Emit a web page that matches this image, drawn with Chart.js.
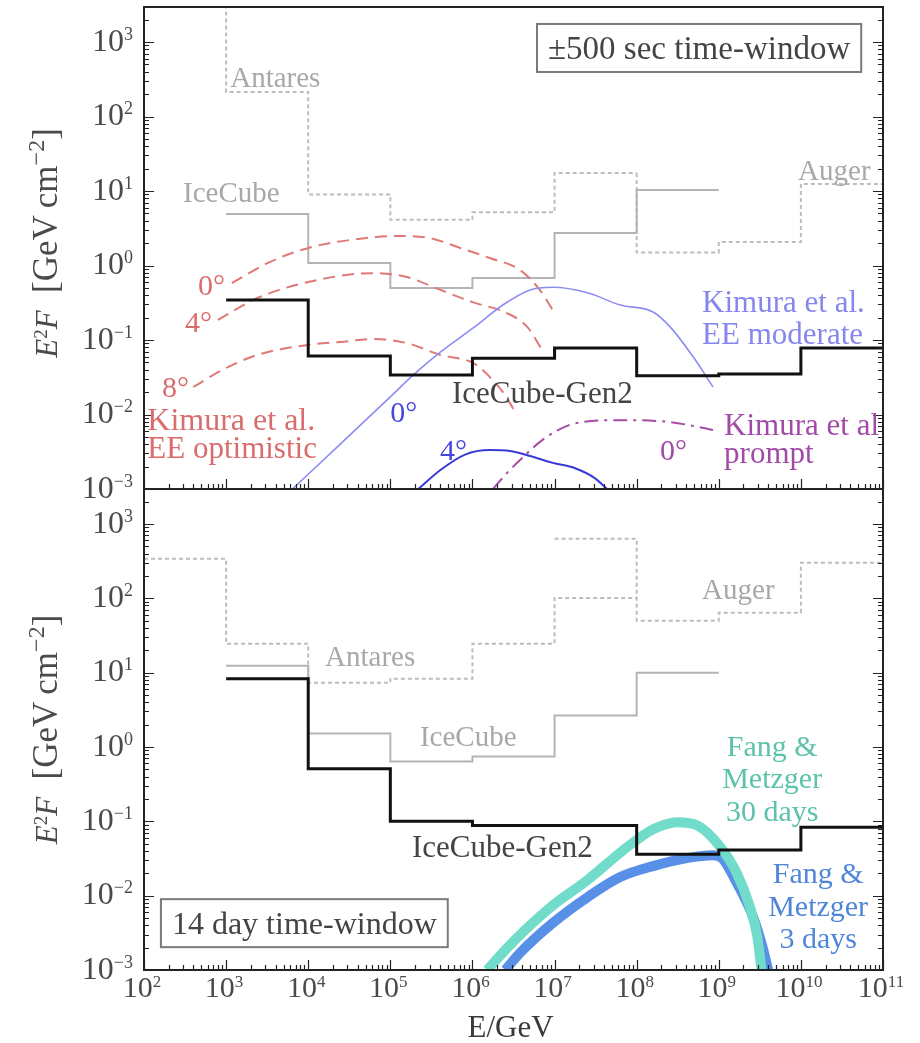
<!DOCTYPE html>
<html>
<head>
<meta charset="utf-8">
<script src="https://cdn.jsdelivr.net/npm/chart.js@4.4.0/dist/chart.umd.min.js"></script>
<style>
  body { margin: 0; background: #fff; }
  #wrap { position: relative; width: 920px; height: 1043px; background: #fff; }
  canvas { position: absolute; left: 0; }
</style>
</head>
<body>
<div id="wrap">
  <canvas id="topPanel" width="920" height="530" style="top:0"></canvas>
  <canvas id="botPanel" width="920" height="573" style="top:470px"></canvas>
</div>
<script>
const FONT = '"Liberation Serif", "DejaVu Serif", serif';

// axes (E in GeV, E^2 F in GeV cm^-2)
const xMin = 1e2, xMax = 1e11;
const yMin = 1e-3, yMax = Math.pow(10, 3.47);
const xTickExps = [2, 3, 4, 5, 6, 7, 8, 9, 10, 11];
const yTickExps = [-3, -2, -1, 0, 1, 2, 3];

// ---- upper panel: ±500 s ----
const antaresTopEdges = [1e2, 1e3, 1e4, 1e5, 1e6, 1e7, 1e8];
const antaresTopVals  = [1e4, 214, 9.0, 4.1, 5.2, 17.5];
const augerTopEdges   = [1e8, 1e9, 1e10, 1e11];
const augerTopVals    = [1.5, 2.07, 12.4];
const icecubeTopEdges = [1e3, 1e4, 1e5, 1e6, 1e7, 1e8, 1e9];
const icecubeTopVals  = [4.9, 1.08, 0.5, 0.68, 2.73, 10.3];
const gen2Edges       = [1e3, 1e4, 1e5, 1e6, 1e7, 1e8, 1e9, 1e10, 1e11];
const gen2TopVals     = [0.344, 0.061, 0.034, 0.057, 0.078, 0.033, 0.035, 0.078];

// Kimura et al. EE optimistic (log10 E, flux)
const eeOpt0LogE = [3.07, 3.53, 4.0, 4.51, 5.12, 5.48, 5.85, 6.21, 6.58, 6.82, 7.0];
const eeOpt0Vals = [0.58, 1.11, 1.72, 2.2, 2.49, 2.34, 1.72, 1.26, 0.87, 0.47, 0.23];
const eeOpt4LogE = [2.90, 3.38, 4.0, 4.79, 5.20, 5.61, 6.01, 6.42, 6.67, 6.85];
const eeOpt4Vals = [0.186, 0.366, 0.60, 0.79, 0.70, 0.47, 0.32, 0.23, 0.149, 0.073];
const eeOpt8LogE = [2.60, 2.96, 3.38, 4.0, 4.39, 4.79, 5.20, 5.61, 6.01, 6.21, 6.40, 6.54];
const eeOpt8Vals = [0.0234, 0.040, 0.063, 0.086, 0.094, 0.103, 0.091, 0.063, 0.049, 0.032, 0.018, 0.0098];
// Kimura et al. EE moderate
const eeMod0LogE = [3.80, 4.39, 5.0, 5.28, 5.64, 6.01, 6.37, 6.70, 6.98, 7.40, 7.80, 8.20, 8.41, 8.69, 8.93];
const eeMod0Vals = [0.00098, 0.0040, 0.0172, 0.034, 0.073, 0.145, 0.295, 0.47, 0.51, 0.43, 0.295, 0.238, 0.149, 0.059, 0.0234];
const eeMod4LogE = [5.34, 5.61, 5.91, 6.21, 6.46, 6.70, 6.98, 7.25, 7.49, 7.64];
const eeMod4Vals = [0.001, 0.0018, 0.0029, 0.00334, 0.00324, 0.00277, 0.00224, 0.0019, 0.0014, 0.001];
// Kimura et al. prompt
const prompt0LogE = [6.25, 6.40, 6.58, 6.88, 7.27, 7.80, 8.41, 8.93];
const prompt0Vals = [0.001, 0.00155, 0.00245, 0.0048, 0.0077, 0.0084, 0.0079, 0.0062];

// ---- lower panel: 14 day ----
const antaresBotEdges = [1e2, 1e3, 1e4, 1e5, 1e6, 1e7, 1e8];
const antaresBotVals  = [340, 24.5, 7.3, 8.3, 24.5, 101];
const augerBotEdges   = [1e7, 1e8, 1e9, 1e10, 1e11];
const augerBotVals    = [630, 50, 64, 300];
const icecubeBotEdges = [1e3, 1e4, 1e5, 1e6, 1e7, 1e8, 1e9];
const icecubeBotVals  = [12.4, 1.52, 0.64, 0.745, 2.65, 10];
const gen2BotVals     = [8.3, 0.51, 0.1, 0.088, 0.088, 0.036, 0.041, 0.083];

// Fang & Metzger
const fang30LogE = [6.18, 6.40, 6.64, 6.98, 7.40, 7.80, 8.0, 8.20, 8.49, 8.74, 9.02, 9.22, 9.38, 9.47, 9.52];
const fang30Vals = [0.001, 0.00186, 0.00344, 0.0074, 0.0162, 0.038, 0.056, 0.078, 0.097, 0.088, 0.045, 0.020, 0.0070, 0.0028, 0.001];
const fang3LogE  = [6.40, 6.58, 6.98, 7.40, 7.80, 8.20, 8.61, 8.93, 9.04, 9.22, 9.42, 9.54, 9.60];
const fang3Vals  = [0.001, 0.0017, 0.0043, 0.0095, 0.0178, 0.025, 0.032, 0.035, 0.032, 0.0148, 0.0051, 0.0019, 0.001];

// colours
const cGrayLine = '#b4b4b4', cGrayDot = '#bdbdbd', cGrayText = '#a8a8a8';
const cRed = '#e07878', cRedText = '#d96c6c';
const cMod = '#8c8cf2', cModText = '#8686ec', cBlue = '#3a3ad6', cBlueText = '#4646e0';
const cPurple = '#a64ca6', cPurpleText = '#a24aa8';
const cTeal = '#72dccb', cTealText = '#5cc2aa', cFang3 = '#5890e8', cFang3Text = '#4f86d8';

function steps(edges, vals, lead) {
  const pts = [];
  if (lead !== undefined) pts.push({ x: edges[0], y: lead });
  vals.forEach((v, i) => { pts.push({ x: edges[i], y: v }, { x: edges[i + 1], y: v }); });
  return pts;
}
function curve(logE, vals) {
  return logE.map((e, i) => ({ x: Math.pow(10, e), y: vals[i] }));
}
function stepDs(data, color, width, dash) {
  return { data, borderColor: color, borderWidth: width, borderDash: dash || [], tension: 0, pointRadius: 0, clip: 0, fill: false };
}
function curveDs(data, color, width, dash) {
  return { data, borderColor: color, borderWidth: width, borderDash: dash || [], cubicInterpolationMode: 'monotone', pointRadius: 0, clip: 0, fill: false };
}

// text drawing with italic / superscript parts; p = [text, flags, size]
function rich(ctx, parts, x, mid, size, color, align, supScale) {
  const sc = supScale || 0.62;
  const fontFor = p => {
    const f = p[1] || '';
    const base = p[2] || size;
    const s = f.includes('s') ? Math.round(base * sc) : base;
    return (f.includes('i') ? 'italic ' : '') + s + 'px ' + FONT;
  };
  let total = 0;
  parts.forEach(p => { ctx.font = fontFor(p); total += ctx.measureText(p[0]).width; });
  let cx = align === 'right' ? x - total : align === 'center' ? x - total / 2 : x;
  const baseY = mid + size * 0.33;
  ctx.fillStyle = color;
  ctx.textAlign = 'left';
  ctx.textBaseline = 'alphabetic';
  parts.forEach(p => {
    ctx.font = fontFor(p);
    const dy = (p[1] || '').includes('s') ? -(p[2] || size) * 0.34 : 0;
    ctx.fillText(p[0], cx, baseY + dy);
    cx += ctx.measureText(p[0]).width;
  });
  return total;
}
const expLabel = e => [['10'], [String(e).replace('-', '\u2212'), 's']];

function panelPlugin(cfg) {
  return {
    id: 'panel',
    afterDatasetsDraw(chart) {
      const { ctx, chartArea: a, scales: { x, y } } = chart;
      ctx.save();
      ctx.strokeStyle = '#222';
      ctx.lineWidth = 1.2;
      ctx.beginPath();
      for (let e = 2; e <= 11; e++) {
        for (let m = 1; m <= 9; m++) {
          const v = m * Math.pow(10, e);
          if (v > xMax) break;
          const px = Math.round(x.getPixelForValue(v)) + 0.5;
          const len = m === 1 ? 10 : 5;
          ctx.moveTo(px, a.bottom); ctx.lineTo(px, a.bottom - len);
        }
      }
      for (let e = -3; e <= 3; e++) {
        for (let m = 1; m <= 9; m++) {
          const v = m * Math.pow(10, e);
          if (v > yMax) break;
          const py = Math.round(y.getPixelForValue(v)) + 0.5;
          const len = m === 1 ? 10 : 5;
          ctx.moveTo(a.left, py); ctx.lineTo(a.left + len, py);
          ctx.moveTo(a.right, py); ctx.lineTo(a.right - len, py);
        }
      }
      ctx.stroke();
      ctx.lineWidth = 2;
      ctx.strokeRect(a.left, a.top, a.right - a.left, a.bottom - a.top);

      // y tick labels
      yTickExps.forEach(e => {
        rich(ctx, expLabel(e), a.left - 11, y.getPixelForValue(Math.pow(10, e)) - 2, 32, '#4a4a4a', 'right', 0.56);
      });
      if (cfg.xLabels) {
        xTickExps.forEach(e => {
          rich(ctx, expLabel(e), x.getPixelForValue(Math.pow(10, e)) - 2, a.bottom + 17, 30, '#4a4a4a', 'center', 0.58);
        });
        rich(ctx, [['E/GeV']], (a.left + a.right) / 2 - 3, a.bottom + 57, 31, '#3a3a3a', 'center');
      }
      // y axis title
      ctx.save();
      ctx.translate(46, (a.top + a.bottom) / 2 + cfg.titleShift);
      ctx.rotate(-Math.PI / 2);
      rich(ctx, [['E', 'i', 31], ['2', 's', 31], ['F', 'i', 31], ['\u2002[GeV\u2009cm', '', 35], ['\u22122', 's', 38], [']', '', 35]],
           0, 0, 34, '#4a4a4a', 'center');
      ctx.restore();

      // box
      if (cfg.box) {
        const b = cfg.box;
        const bx = x.getPixelForValue(Math.pow(10, b.logE));
        const by = y.getPixelForValue(Math.pow(10, b.logF));
        ctx.font = b.size + 'px ' + FONT;
        const w = ctx.measureText(b.text).width;
        ctx.fillStyle = '#fff';
        ctx.fillRect(bx - 11, by - 24, w + 22, 48);
        ctx.strokeStyle = '#7a7a7a';
        ctx.lineWidth = 2;
        ctx.strokeRect(bx - 11, by - 24, w + 22, 48);
        rich(ctx, [[b.text]], bx, by, b.size, '#444', 'left');
      }
      cfg.labels.forEach(l => {
        rich(ctx, [[l.text]], x.getPixelForValue(Math.pow(10, l.logE)), y.getPixelForValue(Math.pow(10, l.logF)),
             l.size, l.color, l.align || 'left');
      });
      ctx.restore();
    }
  };
}

function makeChart(id, datasets, padding, cfg) {
  return new Chart(document.getElementById(id), {
    type: 'line',
    data: { datasets },
    options: {
      responsive: false,
      animation: false,
      layout: { padding },
      plugins: { legend: { display: false }, tooltip: { enabled: false } },
      scales: {
        x: { type: 'logarithmic', min: xMin, max: xMax, display: false },
        y: { type: 'logarithmic', min: yMin, max: yMax, display: false }
      }
    },
    plugins: [panelPlugin(cfg)]
  });
}

// upper panel (lower index is drawn on top)
makeChart('topPanel', [
  stepDs(steps(gen2Edges, gen2TopVals), '#111', 3),
  curveDs(curve(eeMod4LogE, eeMod4Vals), cBlue, 2),
  curveDs(curve(prompt0LogE, prompt0Vals), cPurple, 2, [14, 6, 3, 6]),
  curveDs(curve(eeMod0LogE, eeMod0Vals), cMod, 1.6),
  curveDs(curve(eeOpt0LogE, eeOpt0Vals), cRed, 2, [12, 7]),
  curveDs(curve(eeOpt4LogE, eeOpt4Vals), cRed, 2, [12, 7]),
  curveDs(curve(eeOpt8LogE, eeOpt8Vals), cRed, 2, [12, 7]),
  stepDs(steps(icecubeTopEdges, icecubeTopVals), cGrayLine, 2),
  stepDs(steps(antaresTopEdges, antaresTopVals), cGrayDot, 2, [4, 3]),
  stepDs(steps(augerTopEdges, augerTopVals, antaresTopVals[antaresTopVals.length - 1]), cGrayDot, 2, [4, 3])
], { left: 144, right: 37, top: 7, bottom: 41 }, {
  xLabels: false,
  titleShift: -5,
  box: { text: '\u00b1500 sec time-window', logE: 6.92, logF: 2.92, size: 33 },
  labels: [
    { text: 'Antares', logE: 3.05, logF: 2.53, size: 29, color: cGrayText },
    { text: 'IceCube', logE: 2.475, logF: 0.987, size: 29, color: cGrayText },
    { text: 'Auger', logE: 9.966, logF: 1.282, size: 29, color: cGrayText },
    { text: '0\u00b0', logE: 2.658, logF: -0.262, size: 30, color: cRedText },
    { text: '4\u00b0', logE: 2.50, logF: -0.758, size: 30, color: cRedText },
    { text: '8\u00b0', logE: 2.22, logF: -1.63, size: 30, color: cRedText },
    { text: 'Kimura et al.', logE: 2.04, logF: -2.07, size: 32, color: cRedText },
    { text: 'EE optimistic', logE: 2.04, logF: -2.45, size: 31, color: cRedText },
    { text: '0\u00b0', logE: 5.0, logF: -1.966, size: 30, color: cBlueText },
    { text: '4\u00b0', logE: 5.605, logF: -2.477, size: 30, color: cBlueText },
    { text: 'IceCube-Gen2', logE: 5.75, logF: -1.711, size: 31, color: '#444' },
    { text: 'Kimura et al.', logE: 8.797, logF: -0.49, size: 31, color: cModText },
    { text: 'EE moderate', logE: 8.797, logF: -0.919, size: 31, color: cModText },
    { text: '0\u00b0', logE: 8.285, logF: -2.477, size: 30, color: cPurpleText },
    { text: 'Kimura et al', logE: 9.065, logF: -2.141, size: 31, color: cPurpleText },
    { text: 'prompt', logE: 9.065, logF: -2.52, size: 31, color: cPurpleText }
  ]
});

// lower panel
makeChart('botPanel', [
  stepDs(steps(gen2Edges, gen2BotVals), '#111', 3),
  curveDs(curve(fang30LogE, fang30Vals), cTeal, 10),
  curveDs(curve(fang3LogE, fang3Vals), cFang3, 10),
  stepDs(steps(icecubeBotEdges, icecubeBotVals), cGrayLine, 2),
  stepDs(steps(antaresBotEdges, antaresBotVals), cGrayDot, 2, [4, 3]),
  stepDs(steps(augerBotEdges, augerBotVals), cGrayDot, 2, [4, 3])
], { left: 144, right: 37, top: 19, bottom: 73 }, {
  xLabels: true,
  titleShift: 0,
  box: { text: '14 day time-window', logE: 2.34, logF: -2.37, size: 32 },
  labels: [
    { text: 'Antares', logE: 4.205, logF: 1.215, size: 29, color: cGrayText },
    { text: 'IceCube', logE: 5.36, logF: 0.141, size: 29, color: cGrayText },
    { text: 'Auger', logE: 8.797, logF: 2.114, size: 29, color: cGrayText },
    { text: 'IceCube-Gen2', logE: 5.264, logF: -1.349, size: 31, color: '#444' },
    { text: 'Fang &', logE: 9.65, logF: 0.007, size: 30, color: cTealText, align: 'center' },
    { text: 'Metzger', logE: 9.65, logF: -0.423, size: 30, color: cTealText, align: 'center' },
    { text: '30 days', logE: 9.65, logF: -0.866, size: 30, color: cTealText, align: 'center' },
    { text: 'Fang &', logE: 10.21, logF: -1.698, size: 30, color: cFang3Text, align: 'center' },
    { text: 'Metzger', logE: 10.21, logF: -2.141, size: 30, color: cFang3Text, align: 'center' },
    { text: '3 days', logE: 10.21, logF: -2.57, size: 30, color: cFang3Text, align: 'center' }
  ]
});
</script>
</body>
</html>
